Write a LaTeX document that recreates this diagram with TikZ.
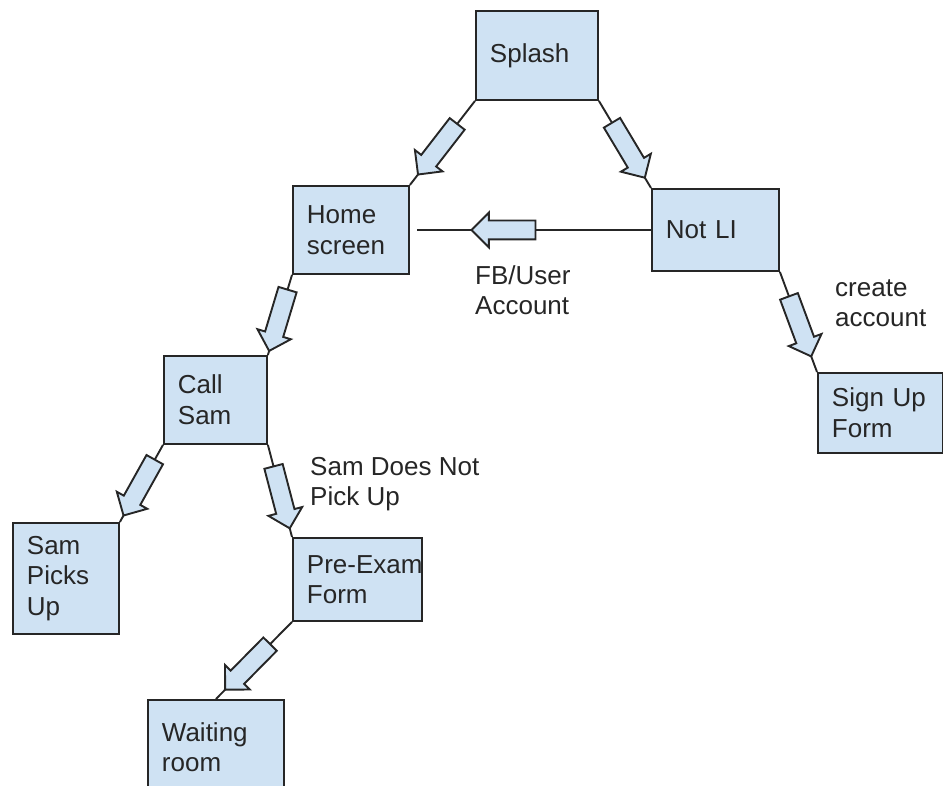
\documentclass[tikz,border=0pt]{standalone}
\usepackage{fontspec}
\setmainfont{Liberation Sans}
\usetikzlibrary{shapes.arrows}

\definecolor{boxblue}{HTML}{CFE2F3}
\definecolor{inkgray}{HTML}{262626}

\tikzset{
  screen/.style={draw=inkgray, fill=boxblue, line width=1.9pt, anchor=north west,
    align=left, inner xsep=14pt, inner ysep=0pt, text=inkgray,
    font=\fontsize{26}{30.5}\selectfont},
  link/.style={draw=inkgray, line width=1.9pt},
  fatarrow/.style={single arrow, draw=inkgray, fill=boxblue, line width=1.9pt,
    minimum height=64pt, inner sep=0pt, inner ysep=8.5pt,
    single arrow head extend=8pt, sloped, allow upside down},
  note/.style={anchor=west, align=left, inner sep=0pt, text=inkgray,
    font=\fontsize{26}{30.5}\selectfont}
}

\begin{document}
\begin{tikzpicture}[x=1pt, y=-1pt]
    \useasboundingbox (0,0) rectangle (943,786);

    % screens
    \node[screen, text width=94pt, minimum height=89pt] (splash) at (475,10) {Splash};
    \node[screen, text width=88pt, minimum height=88pt] (home) at (292,185) {Home\\screen};
    \node[screen, text width=99pt, minimum height=82pt] (notli) at (651,188) {Not LI};
    \node[screen, text width=75pt, minimum height=88pt] (callsam) at (163,355) {Call\\Sam};
    \node[screen, text width=97pt, minimum height=80pt] (signup) at (817,372) {Sign Up\\Form};
    \node[screen, text width=78pt, minimum height=111pt] (sampicks) at (12,522) {Sam\\Picks\\Up};
    \node[screen, text width=101pt, minimum height=83pt] (preexam) at (292,537) {\mbox{Pre-Exam}\\Form};
    \node[screen, text width=108pt, minimum height=95pt] (waiting) at (147,699) {Waiting\\room};

    % links
    \draw[link] (splash.south west) -- node[fatarrow, pos=0.53] {} (home.north east);
    \draw[link] (splash.south east) -- node[fatarrow, pos=0.52] {} (notli.north west);
    \draw[link] (notli.west) -- node[fatarrow, pos=0.61] {} ([xshift=7pt]home.east);
    \draw[link] (home.south west) -- node[fatarrow, pos=0.51] {} (callsam.north east);
    \draw[link] (notli.south east) -- node[fatarrow, pos=0.5] {} (signup.north west);
    \draw[link] (callsam.south west) -- node[fatarrow, pos=0.5] {} (sampicks.north east);
    \draw[link] (callsam.south east) -- node[fatarrow, pos=0.52] {} (preexam.north west);
    \draw[link] (preexam.south west) -- node[fatarrow, pos=0.54] {} (waiting.north);

    % labels
    \node[note] (fblabel) at (475,290) {FB/User\\Account};
    \node[note] (createlabel) at (835,303) {create\\account};
    \node[note] (nopickup) at (310,484) {Sam Does Not\\Pick Up};
\end{tikzpicture}
\end{document}
